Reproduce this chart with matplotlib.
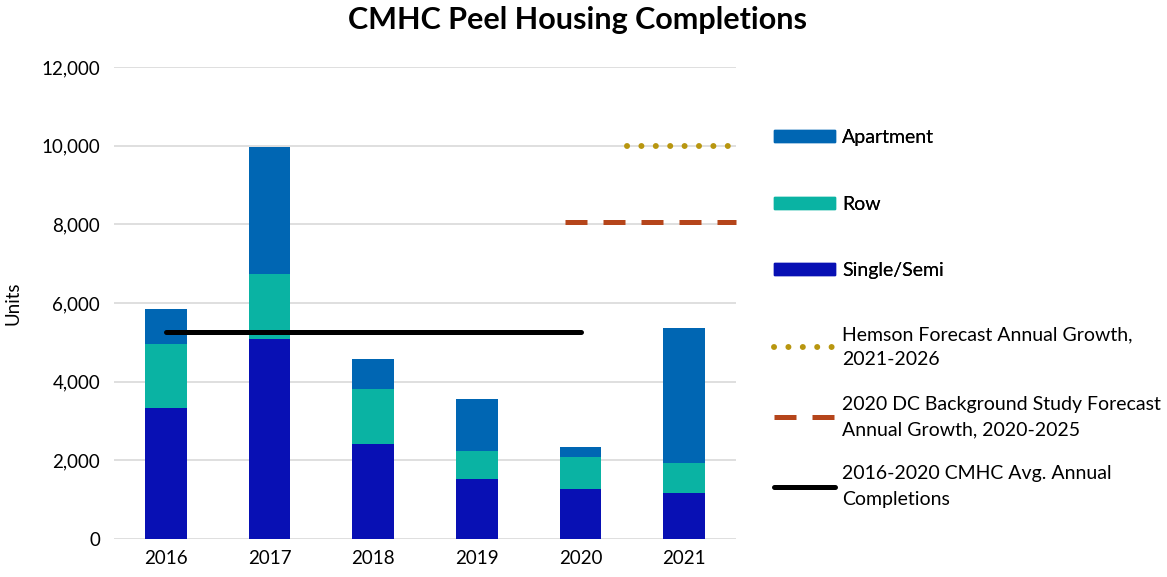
import numpy as np
import matplotlib.pyplot as plt
from matplotlib.patches import Patch
from matplotlib.lines import Line2D

plt.rcParams['font.family'] = ['Lato', 'DejaVu Sans']

years = ['2016', '2017', '2018', '2019', '2020', '2021']
single = [3340, 5075, 2415, 1535, 1280, 1160]
row = [1615, 1665, 1400, 705, 815, 765]
apartment = [880, 3220, 770, 1315, 255, 3450]
avg_2016_2020 = 5255
hemson = 10000
dc_study = 8070

c_apt = '#0066b3'
c_row = '#0ab3a3'
c_single = '#0810b4'
c_hem = '#b8960f'
c_dc = '#b5451b'

x = np.arange(len(years))
single = np.array(single); row = np.array(row); apartment = np.array(apartment)

fig = plt.figure(figsize=(11.67, 5.77), dpi=100)
ax = fig.add_axes([0.0977, 0.0659, 0.533, 0.818])

w = 0.4
ax.bar(x, single, w, color=c_single, zorder=2)
ax.bar(x, row, w, bottom=single, color=c_row, zorder=2)
ax.bar(x, apartment, w, bottom=single + row, color=c_apt, zorder=2)

# average line from 2016 to 2020
ax.plot([x[0], x[4]], [avg_2016_2020] * 2, color='black', lw=3.6,
        solid_capstyle='round', zorder=3)
# forecast lines
ax.plot([3.85, 5.5], [dc_study] * 2, color=c_dc, lw=3.6,
        dashes=(4.4, 3.2), dash_capstyle='butt', zorder=3, clip_on=False)
ax.plot([4.45, 5.47], [hemson] * 2, color=c_hem, lw=4.3,
        dashes=(0.01, 2.4), dash_capstyle='round', zorder=3, clip_on=False)

fs = 13.5
ax.set_xlim(-0.5, 5.5)
ax.set_ylim(0, 12000)
ax.set_yticks(np.arange(0, 12001, 2000))
ax.set_yticklabels([f'{v:,}' for v in range(0, 12001, 2000)])
ax.set_xticks(x)
ax.set_xticklabels(years)
ax.tick_params(length=0, labelsize=fs, pad=10)
ax.tick_params(axis='x', pad=8)
ax.grid(axis='y', color='#d9d9d9', lw=1.2, zorder=0)
for s in ax.spines.values():
    s.set_visible(False)
ax.set_ylabel('Units', fontsize=fs, labelpad=14)

fig.suptitle('CMHC Peel Housing Completions', fontsize=22, fontweight='bold',
             x=0.495, y=0.99)

h1 = [Patch(color=c_apt), Patch(color=c_row), Patch(color=c_single)]
leg1 = fig.legend(h1, ['Apartment', 'Row', 'Single/Semi'],
                  loc='upper left', bbox_to_anchor=(0.655, 0.793),
                  frameon=False, fontsize=14, handlelength=3.14,
                  handleheight=0.57, handletextpad=0.36, labelspacing=2.55,
                  borderpad=0)
h2 = [Line2D([], [], color=c_hem, lw=4.3, dashes=(0.01, 2.4), dash_capstyle='round'),
      Line2D([], [], color=c_dc, lw=3.6, dashes=(4.4, 3.2), dash_capstyle='butt'),
      Line2D([], [], color='black', lw=3.6, solid_capstyle='round')]
leg2 = fig.legend(h2, ['Hemson Forecast Annual Growth,\n2021-2026',
                       '2020 DC Background Study Forecast\nAnnual Growth, 2020-2025',
                       '2016-2020 CMHC Avg. Annual\nCompletions'],
                  loc='upper left', bbox_to_anchor=(0.655, 0.452),
                  frameon=False, fontsize=14, handlelength=3.14,
                  handletextpad=0.36, labelspacing=1.4, borderpad=0)
for t in leg2.get_texts():
    t.set_linespacing(1.6)
fig.add_artist(leg1)

fig.savefig('out.png', dpi=100)
